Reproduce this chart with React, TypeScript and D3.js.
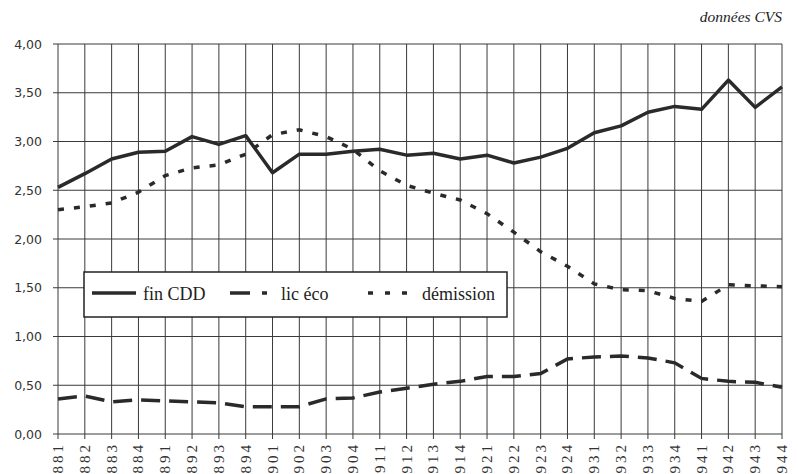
import React from "react";
import * as d3 from "d3";

const categories = ["881","882","883","884","891","892","893","894","901","902","903","904","911","912","913","914","921","922","923","924","931","932","933","934","941","942","943","944"];
const finCDD = [2.53,2.67,2.82,2.89,2.90,3.05,2.97,3.06,2.68,2.87,2.87,2.90,2.92,2.86,2.88,2.82,2.86,2.78,2.84,2.93,3.09,3.16,3.30,3.36,3.33,3.63,3.35,3.56];
const licEco = [0.36,0.39,0.33,0.35,0.34,0.33,0.32,0.28,0.28,0.28,0.36,0.37,0.43,0.47,0.51,0.54,0.59,0.59,0.62,0.77,0.79,0.80,0.78,0.73,0.57,0.54,0.53,0.48];
const demission = [2.30,2.33,2.37,2.48,2.65,2.73,2.76,2.87,3.07,3.12,3.05,2.92,2.70,2.55,2.47,2.40,2.26,2.07,1.87,1.72,1.54,1.48,1.47,1.39,1.36,1.53,1.52,1.51];
const yTicks = [0, 0.5, 1, 1.5, 2, 2.5, 3, 3.5, 4];
const seriesNames = ["fin CDD", "lic éco", "démission"];

const W = 798, H = 474;
const L = 58, R = 782, T = 44, B = 434;

const css = `
svg.chart text.sf { font-family: "Liberation Serif", "Times New Roman", serif !important; }
svg.chart text.ss { font-family: "DejaVu Sans", Verdana, sans-serif !important; }
`;

export default function App() {
  const x = d3.scalePoint<string>().domain(categories).range([L, R]);
  const y = d3.scaleLinear().domain([0, 4]).range([B, T]);
  const line = d3.line<number>().x((_, i) => x(categories[i])!).y(d => y(d));
  const fmt = (v: number) => v.toFixed(2).replace(".", ",");
  const ink = "#2a2a2a";

  return (
    <svg className="chart" width={W} height={H} style={{ position: "absolute", left: 0, top: 0, background: "#fff" }}>
      <style>{css}</style>
      <rect x={0} y={0} width={W} height={H} fill="#fff" />
      {yTicks.map(t => (
        <line key={"h" + t} x1={L} x2={R} y1={y(t)} y2={y(t)} stroke="#3a3a3a" strokeWidth={1} />
      ))}
      {categories.map(c => (
        <line key={"v" + c} x1={x(c)} x2={x(c)} y1={T} y2={B + 5} stroke="#3a3a3a" strokeWidth={1} />
      ))}
      {yTicks.map(t => (
        <line key={"yt" + t} x1={L - 5} x2={L} y1={y(t)} y2={y(t)} stroke="#3a3a3a" strokeWidth={1} />
      ))}
      {yTicks.map(t => (
        <text key={"yl" + t} className="ss" x={42} y={y(t) + 4.5} textAnchor="end" fontFamily="DejaVu Sans" fontSize={12.5} fill="#333">{fmt(t)}</text>
      ))}
      {categories.map(c => (
        <text key={"xl" + c} className="sf" transform={`translate(${x(c)! + 5},442) rotate(-90)`} textAnchor="end" fontFamily="Liberation Serif" fontSize={15} letterSpacing={3} fill="#333">{c}</text>
      ))}
      <path d={line(demission)!} fill="none" stroke={ink} strokeWidth={3.5} strokeDasharray="6,10" />
      <path d={line(licEco)!} fill="none" stroke={ink} strokeWidth={3.5} strokeDasharray="19,9" />
      <path d={line(finCDD)!} fill="none" stroke={ink} strokeWidth={3.5} strokeLinejoin="round" />
      <rect x={84} y={272} width={423} height={45} fill="#fff" stroke="#222" strokeWidth={1.5} />
      <line x1={92} x2={136} y1={293} y2={293} stroke={ink} strokeWidth={3.5} />
      <text className="sf" x={143} y={300} fontFamily="Liberation Serif" fontSize={18} fill="#222">{seriesNames[0]}</text>
      <line x1={230} x2={272} y1={293} y2={293} stroke={ink} strokeWidth={3.5} strokeDasharray="20,12,5,12" />
      <text className="sf" x={281} y={300} fontFamily="Liberation Serif" fontSize={18} fill="#222">{seriesNames[1]}</text>
      <line x1={368} x2={412} y1={293} y2={293} stroke={ink} strokeWidth={3.5} strokeDasharray="5,12" />
      <text className="sf" x={422} y={300} fontFamily="Liberation Serif" fontSize={18} fill="#222">{seriesNames[2]}</text>
      <text className="sf" x={782} y={22} textAnchor="end" fontFamily="Liberation Serif" fontStyle="italic" fontSize={15.5} fill="#222">données CVS</text>
    </svg>
  );
}
